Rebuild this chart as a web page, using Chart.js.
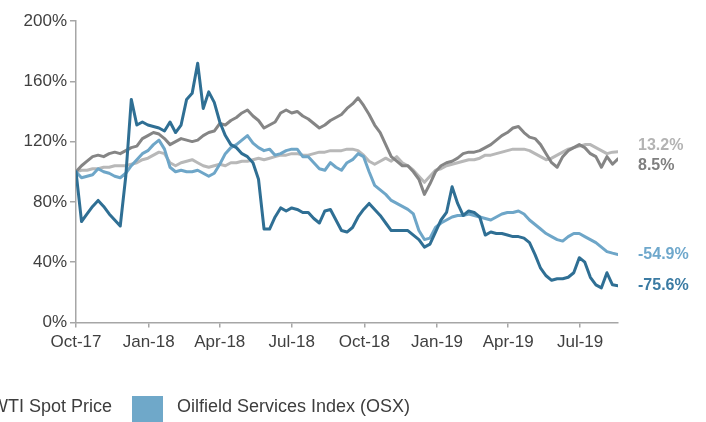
<!DOCTYPE html>
<html>
<head>
<meta charset="utf-8">
<title>Relative performance since Oct-17</title>
<script src="https://cdn.jsdelivr.net/npm/chart.js@4.4.1/dist/chart.umd.min.js"></script>
<style>
  html, body { margin: 0; padding: 0; background: #fff; }
  #wrap { width: 706px; height: 422px; overflow: hidden; }
</style>
</head>
<body>
<div id="wrap"><canvas id="perfChart" width="706" height="422"></canvas></div>
<script>
// Weekly closes, rebased to 100 at the start of Oct-17
const startDate = '2017-10-01';

const stockValues = [
  100, 67, 72, 77, 81, 77, 72, 68, 64, 97,
  148, 131, 133, 131, 130, 129, 127, 133, 126, 131,
  148, 152, 172, 142, 153, 146, 133, 124, 118, 116,
  112, 110, 106, 95, 62, 62, 70, 76, 74, 76,
  75, 73, 73, 69, 66, 74, 75, 68, 61, 60,
  63, 70, 75, 79, 75, 71, 66, 61, 61, 61,
  61, 58, 55, 50, 52, 60, 68, 73, 90, 79,
  71, 74, 73, 70, 58, 60, 59, 59, 58, 57,
  57, 56, 53, 45, 36, 31, 28, 29, 29, 30,
  33, 43, 40, 30, 25, 23, 33, 25, 24.4
];

const osxValues = [
  100, 96, 97, 98, 102, 100, 99, 97, 96, 99,
  104, 108, 112, 114, 118, 121, 115, 103, 100, 101,
  100, 100, 101, 99, 97, 99, 105, 112, 116, 118,
  121, 124, 119, 116, 114, 115, 111, 112, 114, 115,
  115, 110, 110, 106, 102, 101, 106, 103, 101, 106,
  108, 112, 110, 100, 91, 88, 85, 81, 79, 77,
  75, 72, 61, 55, 56, 63, 66, 68, 70, 71,
  71, 72, 71, 70, 69, 68, 70, 72, 73, 73,
  74, 72, 68, 65, 62, 59, 57, 55, 54, 57,
  59, 59, 57, 55, 53, 50, 47, 46, 45.1
];

const wtiValues = [
  100, 104, 107, 110, 111, 110, 112, 113, 112, 114,
  116, 117, 122, 124, 126, 125, 122, 118, 120, 122,
  121, 120, 121, 124, 126, 127, 132, 131, 134, 136,
  139, 141, 137, 134, 129, 131, 133, 139, 141, 139,
  140, 137, 135, 132, 129, 131, 134, 136, 138, 142,
  145, 149, 144, 138, 131, 126, 118, 110, 107, 104,
  104, 100, 95, 85, 92, 100, 104, 106, 107, 109,
  112, 113, 113, 114, 116, 118, 121, 124, 126, 129,
  130, 126, 123, 122, 118, 112, 106, 103, 110, 114,
  116, 118, 116, 112, 110, 103, 110, 105, 108.5
];

const spxValues = [
  100, 101, 101, 102, 102, 103, 103, 104, 104, 104,
  105, 106, 108, 109, 111, 113, 112, 106, 104, 106,
  107, 108, 106, 104, 103, 104, 105, 104, 106, 106,
  107, 107, 108, 109, 108, 109, 110, 111, 111, 112,
  112, 111, 111, 112, 113, 113, 114, 114, 114, 115,
  115, 114, 111, 107, 105, 107, 109, 107, 110, 106,
  104, 101, 97, 93, 97, 101, 102, 104, 105, 106,
  107, 108, 108, 109, 111, 111, 112, 113, 114, 115,
  115, 115, 114, 112, 110, 108, 109, 111, 113, 115,
  116, 117, 118, 118, 116, 114, 112, 113, 113.2
];

const tickDates = ['2017-10-01', '2018-01-01', '2018-04-01', '2018-07-01',
                   '2018-10-01', '2019-01-01', '2019-04-01', '2019-07-01'];
const tickLabels = ['Oct-17', 'Jan-18', 'Apr-18', 'Jul-18', 'Oct-18', 'Jan-19', 'Apr-19', 'Jul-19'];
const yTickValues = [0, 40, 80, 120, 160, 200];

const legendNames = ['WTI Spot Price', 'Oilfield Services Index (OSX)'];
const legendColors = ['#858585', '#6fa8c9'];

const FONT = '"Liberation Sans", Arial, Helvetica, sans-serif';

function dayOffset(d) {
  return (Date.parse(d) - Date.parse(startDate)) / 86400000;
}

function toPoints(values) {
  return values.map((v, i) => ({ x: i * 7, y: v }));
}

const tickDays = tickDates.map(dayOffset);
const lastDay = (stockValues.length - 1) * 7;

// percentage change labels at the right end of each line
const endLabels = {
  id: 'endLabels',
  afterDatasetsDraw(chart) {
    const ctx = chart.ctx;
    const yScale = chart.scales.y;
    const items = chart.data.datasets.map(ds => {
      const last = ds.data[ds.data.length - 1].y;
      return {
        text: (last - 100).toFixed(1) + '%',
        y: yScale.getPixelForValue(last),
        color: ds.labelColor
      };
    }).sort((a, b) => a.y - b.y);

    // nudge labels apart when they sit too close
    const gap = 20;
    for (let pass = 0; pass < 6; pass++) {
      for (let i = 1; i < items.length; i++) {
        const d = items[i].y - items[i - 1].y;
        if (d < gap) {
          const push = (gap - d) / 2;
          items[i - 1].y -= push;
          items[i].y += push;
        }
      }
    }

    ctx.save();
    ctx.font = 'bold 16px ' + FONT;
    ctx.textBaseline = 'middle';
    ctx.textAlign = 'left';
    items.forEach(it => {
      ctx.fillStyle = it.color;
      ctx.fillText(it.text, chart.chartArea.right + 20, it.y);
    });
    ctx.restore();
  }
};

// legend row under the plot
const bottomLegend = {
  id: 'bottomLegend',
  afterDraw(chart) {
    const ctx = chart.ctx;
    ctx.save();
    ctx.font = '18px ' + FONT;
    ctx.textBaseline = 'middle';
    ctx.textAlign = 'left';
    const box = 31, textGap = 14, itemGap = 20;
    const firstW = ctx.measureText(legendNames[0]).width;
    let x = 112 - firstW - textGap - box;
    legendNames.forEach((name, i) => {
      ctx.fillStyle = legendColors[i];
      ctx.fillRect(x, 396, box, box);
      ctx.fillStyle = '#3d3d3d';
      ctx.fillText(name, x + box + textGap, 407);
      x += box + textGap + ctx.measureText(name).width + itemGap;
    });
    ctx.restore();
  }
};

const lineStyle = {
  borderWidth: 3,
  pointRadius: 0,
  tension: 0,
  borderJoinStyle: 'round',
  borderCapStyle: 'round',
  fill: false
};

new Chart(document.getElementById('perfChart'), {
  type: 'line',
  data: {
    datasets: [
      { label: 'Stock', data: toPoints(stockValues), borderColor: '#2f6f94', labelColor: '#3b7ba3', ...lineStyle },
      { label: 'Oilfield Services Index (OSX)', data: toPoints(osxValues), borderColor: '#6ea6c8', labelColor: '#6fa8cc', ...lineStyle },
      { label: 'WTI Spot Price', data: toPoints(wtiValues), borderColor: '#858585', labelColor: '#7f7f7f', ...lineStyle },
      { label: 'S&P 500', data: toPoints(spxValues), borderColor: '#b8b8b8', labelColor: '#b3b3b3', ...lineStyle }
    ]
  },
  options: {
    responsive: false,
    animation: false,
    layout: { padding: { top: 21, right: 88, left: 0, bottom: 0 } },
    plugins: {
      legend: { display: false },
      tooltip: { enabled: false }
    },
    scales: {
      x: {
        type: 'linear',
        min: 0,
        max: lastDay,
        afterBuildTicks: s => { s.ticks = tickDays.map(v => ({ value: v })); },
        afterFit: s => { s.height = 99.5; },
        grid: { drawOnChartArea: false, drawTicks: true, tickLength: 5, color: '#a6a6a6', lineWidth: 1.5 },
        border: { color: '#a6a6a6', width: 1.5 },
        ticks: {
          padding: 5,
          color: '#404040',
          autoSkip: false,
          maxRotation: 0,
          font: { size: 17, family: FONT },
          callback: (v, i) => tickLabels[i]
        }
      },
      y: {
        min: 0,
        max: 200,
        afterBuildTicks: s => { s.ticks = yTickValues.map(v => ({ value: v })); },
        afterFit: s => { s.width = 76; },
        grid: { drawOnChartArea: false, drawTicks: true, tickLength: 6, color: '#a6a6a6', lineWidth: 1.5 },
        border: { color: '#a6a6a6', width: 1.5 },
        ticks: {
          padding: 3,
          color: '#404040',
          font: { size: 17, family: FONT },
          callback: v => v + '%'
        }
      }
    }
  },
  plugins: [endLabels, bottomLegend]
});
</script>
</body>
</html>
